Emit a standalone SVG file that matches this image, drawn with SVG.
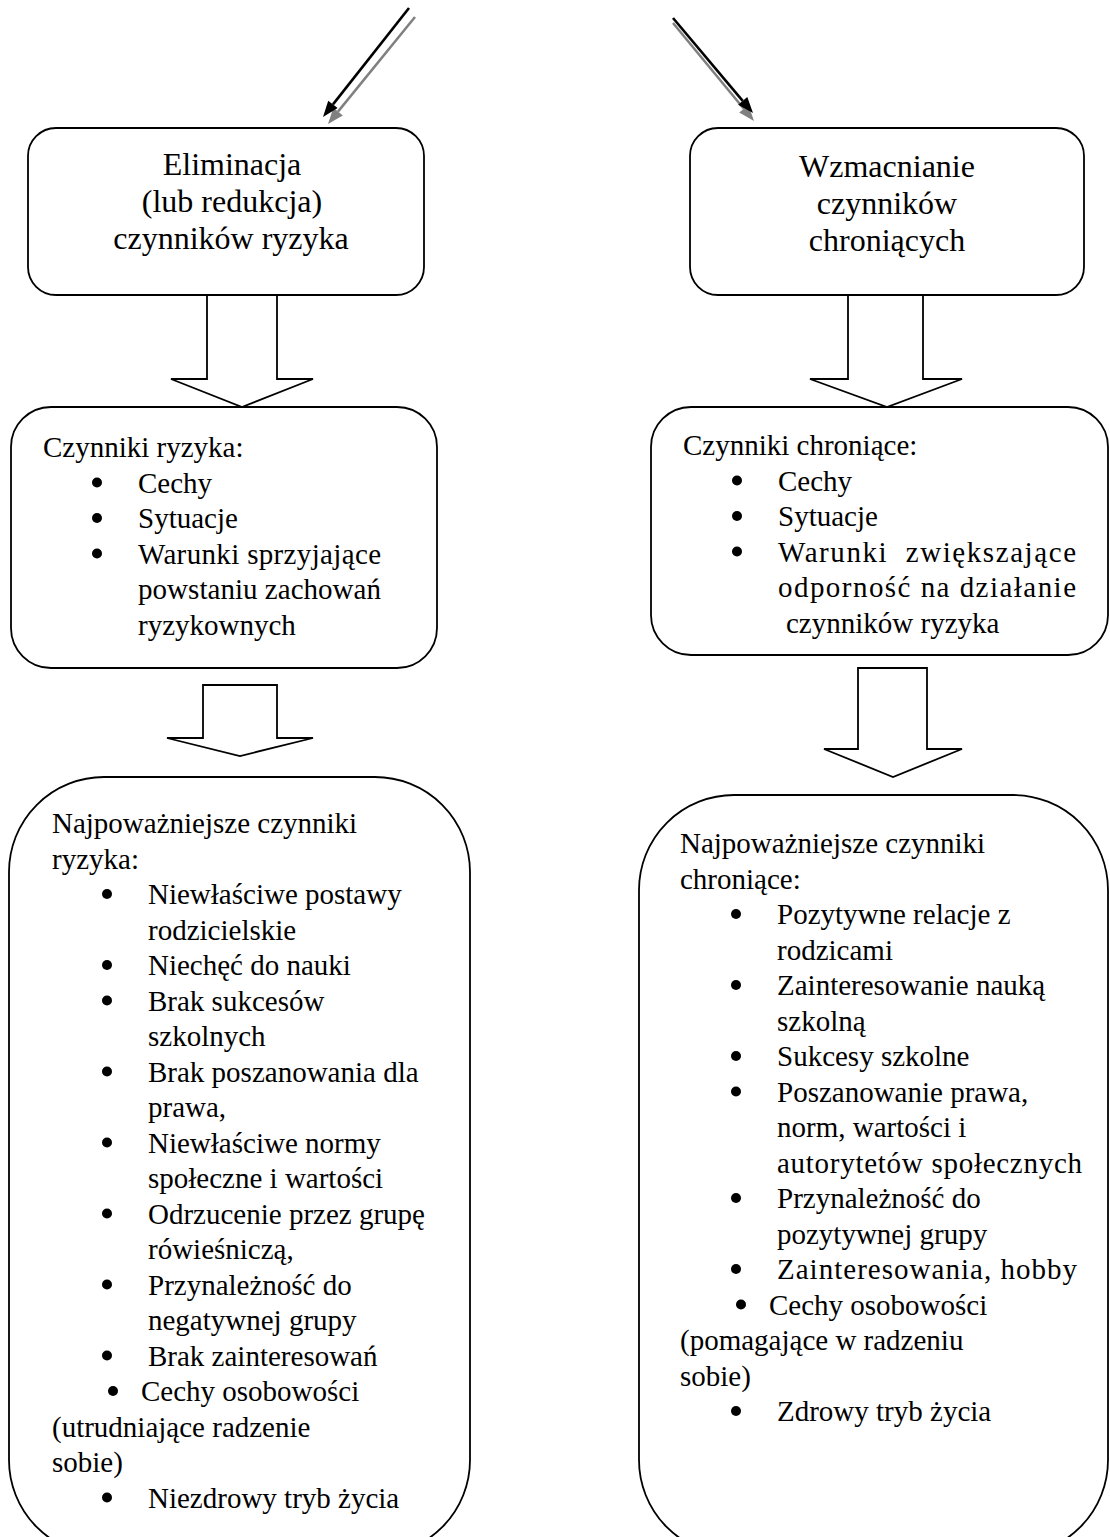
<svg xmlns="http://www.w3.org/2000/svg" width="1110" height="1537" viewBox="0 0 1110 1537">
<style>
.box{fill:#fff;stroke:#000;stroke-width:1.8}
.barrow{fill:#fff;stroke:#000;stroke-width:1.8;stroke-linejoin:miter}
.t{font-family:"Liberation Serif","Times New Roman",serif;font-size:29px;fill:#000}
.tt{font-family:"Liberation Serif","Times New Roman",serif;font-size:32px;fill:#000;text-anchor:middle}
.b{fill:#000}
.ln{stroke:#000;stroke-width:2.6;fill:none}
.lg{stroke:#808080;stroke-width:2.5;fill:none}
</style>
<rect width="1110" height="1537" fill="#fff"/>

<g id="connectors">
  <line class="lg" x1="415" y1="17" x2="338" y2="111.6"/>
  <polygon fill="#808080" points="328,124 342.8,115.4 333.4,107.8"/>
  <line class="ln" x1="409" y1="8" x2="333" y2="104.4"/>
  <polygon fill="#000" points="323,117 337.6,108.1 328.2,100.7"/>
  <line class="lg" x1="673" y1="23" x2="743.8" y2="108.7"/>
  <polygon fill="#808080" points="754,121 739.2,112.5 748.4,104.9"/>
  <line class="ln" x1="673" y1="18" x2="742.7" y2="100.8"/>
  <polygon fill="#000" points="753,113 738.1,104.7 747.3,96.9"/>
  <polygon class="barrow" points="207,295 277,295 277,379 313,379 242,407 171,379 207,379"/>
  <polygon class="barrow" points="848,295 923,295 923,379 962,379 887,407 810,379 848,379"/>
  <polygon class="barrow" points="203,685 277,685 277,738 313,738 240,756 167,738 203,738"/>
  <polygon class="barrow" points="858,668 927,668 927,749 962,749 893,777 824,749 858,749"/>
</g>

<g id="node-eliminacja">
  <rect class="box" x="28" y="128" width="396" height="167" rx="28"/>
  <text class="tt" x="232" y="175">Eliminacja</text>
  <text class="tt" x="232" y="212">(lub redukcja)</text>
  <text class="tt" x="231" y="249">czynników ryzyka</text>
</g>

<g id="node-wzmacnianie">
  <rect class="box" x="690" y="128" width="394" height="167" rx="28"/>
  <text class="tt" x="887" y="177">Wzmacnianie</text>
  <text class="tt" x="887" y="214">czynników</text>
  <text class="tt" x="887" y="251">chroniących</text>
</g>

<g id="node-czynniki-ryzyka">
  <rect class="box" x="11" y="407" width="426" height="261" rx="40"/>
  <text class="t" x="43" y="457">Czynniki ryzyka:</text>
  <circle class="b" cx="97" cy="482.5" r="5"/>
  <text class="t" x="138" y="492.5">Cechy</text>
  <circle class="b" cx="97" cy="518" r="5"/>
  <text class="t" x="138" y="528">Sytuacje</text>
  <circle class="b" cx="97" cy="553.5" r="5"/>
  <text class="t" x="138" y="563.5" textLength="243" lengthAdjust="spacing">Warunki sprzyjające</text>
  <text class="t" x="138" y="599" textLength="243" lengthAdjust="spacing">powstaniu zachowań</text>
  <text class="t" x="138" y="634.5">ryzykownych</text>
</g>

<g id="node-czynniki-chroniace">
  <rect class="box" x="651" y="407" width="457" height="248" rx="40"/>
  <text class="t" x="683" y="455">Czynniki chroniące:</text>
  <circle class="b" cx="737" cy="480.5" r="5"/>
  <text class="t" x="778" y="490.5">Cechy</text>
  <circle class="b" cx="737" cy="516" r="5"/>
  <text class="t" x="778" y="526">Sytuacje</text>
  <circle class="b" cx="737" cy="551.5" r="5"/>
  <text class="t" x="778" y="561.5" xml:space="preserve" textLength="298" lengthAdjust="spacing">Warunki  zwiększające</text>
  <text class="t" x="778" y="597" textLength="298" lengthAdjust="spacing">odporność na działanie</text>
  <text class="t" x="786" y="632.5">czynników ryzyka</text>
</g>

<g id="node-najpowazniejsze-ryzyka">
  <rect class="box" x="9" y="777" width="461" height="778" rx="95"/>
  <text class="t" x="52" y="833">Najpoważniejsze czynniki</text>
  <text class="t" x="52" y="868.5">ryzyka:</text>
  <circle class="b" cx="107" cy="894" r="5"/>
  <text class="t" x="148" y="904">Niewłaściwe postawy</text>
  <text class="t" x="148" y="939.5">rodzicielskie</text>
  <circle class="b" cx="107" cy="965" r="5"/>
  <text class="t" x="148" y="975">Niechęć do nauki</text>
  <circle class="b" cx="107" cy="1000.5" r="5"/>
  <text class="t" x="148" y="1010.5">Brak sukcesów</text>
  <text class="t" x="148" y="1046">szkolnych</text>
  <circle class="b" cx="107" cy="1071.5" r="5"/>
  <text class="t" x="148" y="1081.5">Brak poszanowania dla</text>
  <text class="t" x="148" y="1117">prawa,</text>
  <circle class="b" cx="107" cy="1142.5" r="5"/>
  <text class="t" x="148" y="1152.5">Niewłaściwe normy</text>
  <text class="t" x="148" y="1188">społeczne i wartości</text>
  <circle class="b" cx="107" cy="1213.5" r="5"/>
  <text class="t" x="148" y="1223.5">Odrzucenie przez grupę</text>
  <text class="t" x="148" y="1259">rówieśniczą,</text>
  <circle class="b" cx="107" cy="1284.5" r="5"/>
  <text class="t" x="148" y="1294.5">Przynależność do</text>
  <text class="t" x="148" y="1330">negatywnej grupy</text>
  <circle class="b" cx="107" cy="1355.5" r="5"/>
  <text class="t" x="148" y="1365.5">Brak zainteresowań</text>
  <circle class="b" cx="113" cy="1391" r="5"/>
  <text class="t" x="141" y="1401">Cechy osobowości</text>
  <text class="t" x="52" y="1436.5">(utrudniające radzenie</text>
  <text class="t" x="52" y="1472">sobie)</text>
  <circle class="b" cx="107" cy="1497.5" r="5"/>
  <text class="t" x="148" y="1507.5">Niezdrowy tryb życia</text>
</g>

<g id="node-najpowazniejsze-chroniace">
  <rect class="box" x="639" y="795" width="469" height="760" rx="95"/>
  <text class="t" x="680" y="853">Najpoważniejsze czynniki</text>
  <text class="t" x="680" y="888.5">chroniące:</text>
  <circle class="b" cx="736" cy="914" r="5"/>
  <text class="t" x="777" y="924">Pozytywne relacje z</text>
  <text class="t" x="777" y="959.5">rodzicami</text>
  <circle class="b" cx="736" cy="985" r="5"/>
  <text class="t" x="777" y="995">Zainteresowanie nauką</text>
  <text class="t" x="777" y="1030.5">szkolną</text>
  <circle class="b" cx="736" cy="1056" r="5"/>
  <text class="t" x="777" y="1066">Sukcesy szkolne</text>
  <circle class="b" cx="736" cy="1091.5" r="5"/>
  <text class="t" x="777" y="1101.5">Poszanowanie prawa,</text>
  <text class="t" x="777" y="1137">norm, wartości i</text>
  <text class="t" x="777" y="1172.5" textLength="305" lengthAdjust="spacing">autorytetów społecznych</text>
  <circle class="b" cx="736" cy="1198" r="5"/>
  <text class="t" x="777" y="1208">Przynależność do</text>
  <text class="t" x="777" y="1243.5">pozytywnej grupy</text>
  <circle class="b" cx="736" cy="1269" r="5"/>
  <text class="t" x="777" y="1279" textLength="300" lengthAdjust="spacing">Zainteresowania, hobby</text>
  <circle class="b" cx="741" cy="1304.5" r="5"/>
  <text class="t" x="769" y="1314.5">Cechy osobowości</text>
  <text class="t" x="680" y="1350">(pomagające w radzeniu</text>
  <text class="t" x="680" y="1385.5">sobie)</text>
  <circle class="b" cx="736" cy="1411" r="5"/>
  <text class="t" x="777" y="1421">Zdrowy tryb życia</text>
</g>
</svg>
